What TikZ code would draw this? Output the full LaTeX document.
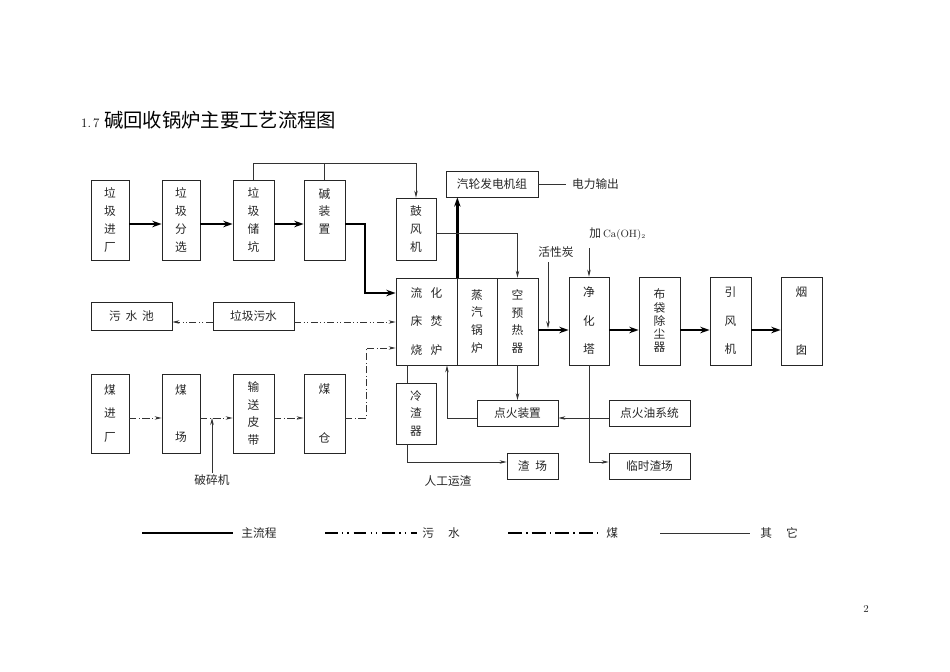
\documentclass[tikz,border=0pt]{standalone}
\usepackage{fontspec}
\newfontfamily\cjk{Noto Sans CJK SC}
\usetikzlibrary{arrows.meta, calc}
\tikzset{
  boxsize/.style 2 args={minimum width=#1*0.03cm, minimum height=#2*0.03cm},
  box/.style={draw=black!85, line width=0.6pt, inner sep=1pt, align=center, text=black!85,
    font=\cjk\fontsize{10}{15.3}\selectfont},
  txt/.style={inner sep=1pt, text=black!85, font=\cjk\fontsize{10}{12}\selectfont},
  main/.style={draw=black, line width=2.4pt},
  mainarr/.style={main, -{Stealth[length=8pt, width=5.5pt]}},
  other/.style={draw=black!80, line width=0.6pt},
  ww/.style={draw=black!80, line width=0.6pt, dash pattern=on 6pt off 2pt on 0.8pt off 2pt on 0.8pt off 2.5pt},
  coal/.style={draw=black!80, line width=0.7pt, dash pattern=on 6pt off 2.2pt on 0.8pt off 2.2pt},
  wwleg/.style={draw=black, line width=1.8pt, dash pattern=on 11pt off 3.5pt on 1.2pt off 3.5pt on 1.2pt off 4pt},
  coalleg/.style={draw=black, line width=1.8pt, dash pattern=on 12pt off 3.5pt on 1.2pt off 3.5pt},
}

\begin{document}
\begin{tikzpicture}[x=0.03cm, y=-0.03cm, >={Stealth[length=6pt, width=3pt]}]
\useasboundingbox (0,0) rectangle (950,672);

% title
\node[anchor=west, inner sep=0pt, text=black] (title) at (81,120)
  {\fontsize{11}{11}\selectfont 1.\,7\hspace{4pt}{\cjk\fontsize{16.5}{16.5}\selectfont 碱回收锅炉主要工艺流程图}};

% helper rows
\coordinate (topLine) at (0,163);
\coordinate (rowA) at (0,224);
\coordinate (gfOut) at (0,233);
\coordinate (rowW) at (0,322);
\coordinate (rowM) at (0,330);
\coordinate (rowC) at (0,418);
\coordinate (rowI) at (0,418);
\coordinate (rowS) at (0,462);
\coordinate (jzBend) at (365,293);
\coordinate (coalBend) at (366,348);
\coordinate (slagX) at (407,0);
\coordinate (igBend) at (447,418);

% garbage line
\node[box, boxsize={38}{80}] (jc) at (110,220) {垃\\圾\\进\\厂};
\node[box, boxsize={38}{80}] (fx) at (181,220) {垃\\圾\\分\\选};
\node[box, boxsize={41}{80}] (ck) at (253.5,220) {垃\\圾\\储\\坑};
\node[box, boxsize={41}{80}] (jz) at (324.5,220) {碱\\装\\置\\~};
\node[box, boxsize={40}{62}] (gf) at (416,229) {鼓\\风\\机};
\node[box, boxsize={92}{26}] (qlj) at (492,184) {汽轮发电机组};
\node[txt, anchor=west, inner sep=5pt] (dlsc) at (566,184) {电力输出};

% furnace block
\node[box, boxsize={61}{87}] (lh) at (426.5,321.5) {流\hspace{7pt}化\\[9pt]床\hspace{7pt}焚\\[9pt]烧\hspace{7pt}炉};
\node[box, boxsize={40}{87}] (zq) at (477,321.5) {蒸\\汽\\锅\\炉};
\node[box, boxsize={41}{87}] (ky) at (517.5,321.5) {空\\预\\热\\器};

% flue gas line
\node[box, boxsize={40}{88}] (jh) at (589,321) {净\\[9pt]化\\[9pt]塔};
\node[box, boxsize={41}{88}] (bd) at (659.5,321) {布\\[-4pt]袋\\[-4pt]除\\[-4pt]尘\\[-4pt]器};
\node[box, boxsize={41}{88}] (yf) at (730.5,321) {引\\[9pt]风\\[9pt]机};
\node[box, boxsize={41}{88}] (yc) at (801.5,321) {烟\\[34pt]囱};
\node[txt] (hxt) at (556,252) {活性炭};
\coordinate (hxtTop) at (548,262);
\node[txt, anchor=west] (caoh) at (588,234) {加\,{\rmfamily\fontsize{9}{9}\selectfont Ca(OH)$_{\scriptscriptstyle 2}$}};
\coordinate (caTop) at (589,248);

% waste water
\node[box, boxsize={81}{28}] (wsc) at (131.5,316.5) {污\hspace{4pt}水\hspace{4pt}池};
\node[box, boxsize={81}{28}] (ljws) at (253.5,316.5) {垃圾污水};

% coal line
\node[box, boxsize={38}{79}] (mjc) at (110,413.5) {煤\\[5pt]进\\[5pt]厂};
\node[box, boxsize={38}{79}] (mc) at (181,413.5) {煤\\[25.5pt]场};
\node[box, boxsize={41}{79}] (ssp) at (253.5,413.5) {输\\送\\皮\\带};
\node[box, boxsize={41}{79}] (mcang) at (324.5,413.5) {煤\\[27pt]仓};
\node[txt] (psj) at (212,480) {破碎机};

% slag and ignition
\node[box, boxsize={40}{61}] (lzq) at (416,413.5) {冷\\渣\\器};
\node[box, boxsize={81}{26}] (dhz) at (517.5,413.5) {点火装置};
\node[box, boxsize={81}{26}] (dhy) at (649.5,413.5) {点火油系统};
\node[box, boxsize={51}{26}] (zc) at (532.5,466) {渣\hspace{5pt}场};
\node[box, boxsize={81}{26}] (lszc) at (649.5,466) {临时渣场};
\node[txt] (rgyz) at (448,481) {人工运渣};

% main flow
\draw[mainarr] (jc.east |- rowA) -- (fx.west |- rowA);
\draw[mainarr] (fx.east |- rowA) -- (ck.west |- rowA);
\draw[mainarr] (ck.east |- rowA) -- (jz.west |- rowA);
\draw[mainarr] (jz.east |- rowA) -| (jzBend) -- (lh.west |- jzBend);
\draw[mainarr] (lh.north east) -- (lh.north east |- qlj.south);
\draw[mainarr] (ky.east |- rowM) -- (jh.west |- rowM);
\draw[mainarr] (jh.east |- rowM) -- (bd.west |- rowM);
\draw[mainarr] (bd.east |- rowM) -- (yf.west |- rowM);
\draw[mainarr] (yf.east |- rowM) -- (yc.west |- rowM);

% other lines
\draw[other, ->] (ck.north) -- (ck.north |- topLine) -- (gf.north |- topLine) -- (gf.north);
\draw[other] (jz.north) -- (jz.north |- topLine);
\draw[other, ->] (gf.east |- gfOut) -| (ky.north);
\draw[other] (qlj.east) -- (dlsc.west);
\draw[other, ->, shorten >=1.5pt] (hxtTop) -- (hxtTop |- rowM);
\draw[other, ->] (caTop) -- (jh.north);
\draw[other, ->] (psj.north) -- (psj.north |- rowC);
\draw[other] (lh.south -| slagX) -- (lzq.north -| slagX);
\draw[other, ->] (lzq.south -| slagX) |- (zc.west |- rowS);
\draw[other, ->] (dhz.west |- igBend) -| (lh.south -| igBend);
\draw[other, ->] (ky.south) -- (ky.south |- dhz.north);
\draw[other, ->] (jh.south) |- (lszc.west |- rowS);
\draw[other, ->] (dhy.west |- rowI) -- (dhz.east |- rowI);

% waste water lines
\draw[ww, ->] (ljws.west |- rowW) -- (wsc.east |- rowW);
\draw[ww, ->] (ljws.east |- rowW) -- (lh.west |- rowW);

% coal lines
\draw[coal, ->] (mjc.east |- rowC) -- (mc.west |- rowC);
\draw[coal, ->] (mc.east |- rowC) -- (ssp.west |- rowC);
\draw[coal, ->] (ssp.east |- rowC) -- (mcang.west |- rowC);
\draw[coal, ->] (mcang.east |- rowC) -| (coalBend) -- (lh.west |- coalBend);

% legend
\coordinate (lgA1) at (142,533); \coordinate (lgA2) at (233,533);
\coordinate (lgB1) at (325,533); \coordinate (lgB2) at (417,533);
\coordinate (lgC1) at (508,533); \coordinate (lgC2) at (598,533);
\coordinate (lgD1) at (660,533); \coordinate (lgD2) at (750,533);
\draw[main] (lgA1) -- (lgA2);
\draw[wwleg] (lgB1) -- (lgB2);
\draw[coalleg] (lgC1) -- (lgC2);
\draw[other, line width=0.8pt] (lgD1) -- (lgD2);
\node[txt, anchor=west] (lgA) at (240,533) {主流程};
\node[txt, anchor=west] (lgB) at (421,533) {污\hspace{12pt}水};
\node[txt, anchor=west] (lgC) at (605,533) {煤};
\node[txt, anchor=west] (lgD) at (759,533) {其\hspace{12pt}它};

% page number
\node[inner sep=0pt, text=black!85] (page) at (866,609) {\fontsize{9}{9}\selectfont 2};
\end{tikzpicture}
\end{document}
